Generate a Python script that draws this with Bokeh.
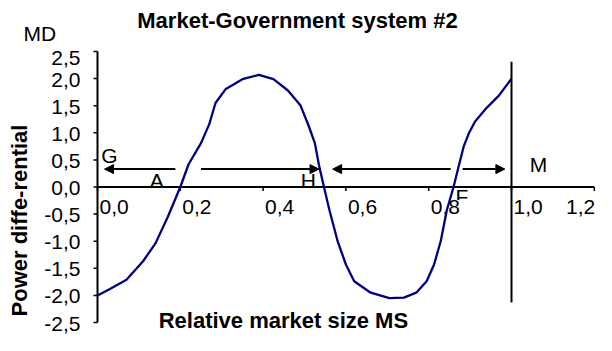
import math
from bokeh.plotting import figure
from bokeh.models import ColumnDataSource, Arrow, NormalHead, Range1d
from bokeh.core.properties import value
from bokeh.embed import file_html
from bokeh.resources import INLINE

# ---- data ----
ms = [0.0, 0.03, 0.07, 0.11, 0.14, 0.17, 0.20, 0.22, 0.25, 0.27, 0.285, 0.31, 0.35, 0.39,
      0.425, 0.46, 0.49, 0.51, 0.525, 0.535, 0.547, 0.56, 0.58, 0.60, 0.62, 0.66, 0.705,
      0.74, 0.77, 0.795, 0.813, 0.829, 0.844, 0.86, 0.875, 0.885, 0.897, 0.912, 0.94, 0.97, 1.0]
md = [-2.0, -1.88, -1.71, -1.37, -1.04, -0.55, 0.0, 0.42, 0.81, 1.16, 1.55, 1.81, 1.99, 2.07,
      1.99, 1.78, 1.51, 1.13, 0.81, 0.40, 0.0, -0.42, -1.0, -1.43, -1.74, -1.95, -2.05,
      -2.04, -1.95, -1.74, -1.43, -1.0, -0.42, 0.0, 0.46, 0.76, 0.99, 1.21, 1.46, 1.69, 2.0]

xtick_vals = [0.0, 0.2, 0.4, 0.6, 0.8, 1.0, 1.2]
xtick_labels = ["0,0", "0,2", "0,4", "0,6", "0,8", "1,0", "1,2"]
ytick_vals = [-2.5, -2.0, -1.5, -1.0, -0.5, 0.0, 0.5, 1.0, 1.5, 2.0, 2.5]
ytick_labels = ["-2,5", "-2,0", "-1,5", "-1,0", "-0,5", "0,0", "0,5", "1,0", "1,5", "2,0", "2,5"]

arrow_y = 0.33
arrow_x_start = [0.188, 0.25, 0.853, 0.882]
arrow_x_end = [0.017, 0.535, 0.568, 0.984]

point_names = ["G", "A", "H", "M"]
point_x = [0.029, 0.143, 0.509, 1.065]
point_y = [0.58, 0.12, 0.12, 0.41]

f_label_x = 0.865
f_label_y = 0.0

m_line_x = [1.0, 1.0]
m_line_y = [-2.13, 2.31]

title_text = "Market-Government system #2"
x_title = "Relative market size MS"
y_title = "Power diffe-rential"
y_unit = "MD"

FONT = "Liberation Sans"
W, H = 596, 335
# pixel layout of the plotting area (whole canvas is the frame)
X0_PX, X_PER = 97.0, 414.0      # px of x=0, px per unit
Y0_PX, Y_PER = 186.5, 54.2      # px of y=0 (from top), px per unit

x_range = Range1d(-X0_PX / X_PER, (W - X0_PX) / X_PER)
y_range = Range1d(-(H - Y0_PX) / Y_PER, Y0_PX / Y_PER)

p = figure(width=W, height=H, x_range=x_range, y_range=y_range,
           output_backend="svg", toolbar_location=None,
           x_axis_type=None, y_axis_type=None, min_border=0)
p.grid.visible = False
p.outline_line_color = None
p.background_fill_color = "white"
p.border_fill_color = "white"

tick_len_x = 4 / X_PER
tick_len_y = 4 / Y_PER

# arrows
asrc = ColumnDataSource(dict(x0=arrow_x_start, x1=arrow_x_end,
                             y0=[arrow_y] * len(arrow_x_start), y1=[arrow_y] * len(arrow_x_end)))
p.add_layout(Arrow(end=NormalHead(size=9, fill_color="black", line_color="black"),
                   x_start="x0", y_start="y0", x_end="x1", y_end="y1", source=asrc,
                   line_width=2, line_color="black"))

# point labels
p.text(x=point_x, y=point_y, text=point_names, text_font=value(FONT), text_font_size="21px",
       text_align="center", text_baseline="middle", text_color="black")
p.text(x=[f_label_x], y=[f_label_y], text=["F"], text_font=value(FONT), text_font_size="21px",
       text_align="left", text_baseline="middle", y_offset=9, text_color="black")

# x tick labels (white background, as in the original)
p.text(x=xtick_vals[:-1], y=[0] * (len(xtick_vals) - 1), text=xtick_labels[:-1],
       text_font=value(FONT), text_font_size="21px", text_align="left",
       text_baseline="middle", x_offset=2, y_offset=20, text_color="black",
       background_fill_color="white")
p.text(x=xtick_vals[-1:], y=[0], text=xtick_labels[-1:],
       text_font=value(FONT), text_font_size="21px", text_align="right",
       text_baseline="middle", x_offset=1, y_offset=20, text_color="black",
       background_fill_color="white")

# y tick labels (top one sits a little lower, as in the original)
p.text(x=[0] * (len(ytick_vals) - 1), y=ytick_vals[:-1], text=ytick_labels[:-1],
       text_font=value(FONT), text_font_size="21px", text_align="right",
       text_baseline="middle", x_offset=-17, y_offset=1, text_color="black")
p.text(x=[0], y=ytick_vals[-1:], text=ytick_labels[-1:],
       text_font=value(FONT), text_font_size="21px", text_align="right",
       text_baseline="middle", x_offset=-17, y_offset=6, text_color="black")

# axes
p.segment(x0=[xtick_vals[0]], x1=[xtick_vals[-1]], y0=[0], y1=[0], line_color="black", line_width=2)
p.segment(x0=xtick_vals, x1=xtick_vals, y0=[0] * len(xtick_vals),
          y1=[-tick_len_y] * len(xtick_vals), line_color="black", line_width=1.5)
p.segment(x0=[0], x1=[0], y0=[ytick_vals[0]], y1=[ytick_vals[-1]], line_color="black", line_width=2)
p.segment(x0=[0] * len(ytick_vals), x1=[-tick_len_x] * len(ytick_vals), y0=ytick_vals,
          y1=ytick_vals, line_color="black", line_width=1.5)

# curve and vertical line
p.line(ms, md, line_color="#000080", line_width=2.3)
p.line(m_line_x, m_line_y, line_color="black", line_width=2)

# titles
p.text(x=[0.483], y=[3.072], text=[title_text], text_font=value(FONT), text_font_size="22px",
       text_font_style="bold", text_align="center", text_baseline="middle", text_color="black")
p.text(x=[-0.179], y=[2.832], text=[y_unit], text_font=value(FONT), text_font_size="21px",
       text_align="left", text_baseline="middle", text_color="black")
p.text(x=[0.449], y=[-2.463], text=[x_title], text_font=value(FONT), text_font_size="22px",
       text_font_style="bold", text_align="center", text_baseline="middle", text_color="black")
p.text(x=[-0.188], y=[-0.618], text=[y_title], text_font=value(FONT), text_font_size="22px",
       text_font_style="bold", text_align="center", text_baseline="middle",
       angle=math.pi / 2, text_color="black")

open("out.html", "w").write(file_html(p, INLINE))
